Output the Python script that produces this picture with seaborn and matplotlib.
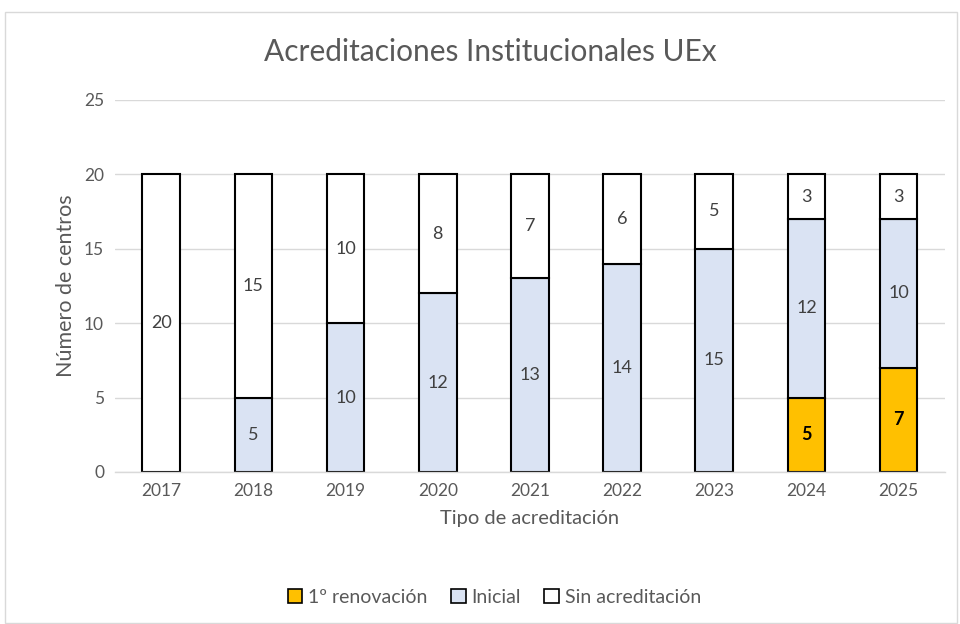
import matplotlib
matplotlib.use("Agg")
import matplotlib.pyplot as plt
import seaborn as sns
import pandas as pd
from matplotlib.patches import Rectangle, Patch

years = ["2017", "2018", "2019", "2020", "2021", "2022", "2023", "2024", "2025"]
renovacion = [0, 0, 0, 0, 0, 0, 0, 5, 7]
inicial = [0, 5, 10, 12, 13, 14, 15, 12, 10]
sin_acred = [20, 15, 10, 8, 7, 6, 5, 3, 3]

sns.set_theme(style="white")
plt.rcParams['font.family'] = ['Lato', 'DejaVu Sans']

fig = plt.figure(figsize=(9.6, 6.24), dpi=100)
ax = fig.add_axes([0.12, 0.2436, 0.864, 0.5964])

df = pd.DataFrame({"year": years, "ren": renovacion, "ini": inicial, "sin": sin_acred})
bot1 = [0] * len(years)
bot2 = [r for r in renovacion]
bot3 = [r + i for r, i in zip(renovacion, inicial)]

layers = [
    ("ren", bot1, "#FFC000", "1º renovación"),
    ("ini", bot2, "#DAE3F3", "Inicial"),
    ("sin", bot3, "#FFFFFF", "Sin acreditación"),
]
for col, bottom, color, lab in layers:
    sns.barplot(data=df, x="year", y=col, ax=ax, color=color, bottom=bottom,
                width=0.41, edgecolor="black", linewidth=1.5, saturation=1,
                order=years)

# labels
for i in range(len(years)):
    vals = [renovacion[i], inicial[i], sin_acred[i]]
    bots = [bot1[i], bot2[i], bot3[i]]
    for k, (v, b) in enumerate(zip(vals, bots)):
        if v == 0:
            continue
        if k == 0:
            ax.text(i, b + v / 2, str(v), ha="center", va="center", fontsize=13,
                    fontweight="bold", color="black")
        else:
            ax.text(i, b + v / 2, str(v), ha="center", va="center", fontsize=13,
                    color="#404040")

ax.set_ylim(0, 25)
ax.set_yticks([0, 5, 10, 15, 20, 25])
ax.set_xlim(-0.5, len(years) - 0.5)
ax.yaxis.grid(True, color="#D9D9D9", linewidth=1)
ax.set_axisbelow(True)
for s in ["top", "right", "left"]:
    ax.spines[s].set_visible(False)
ax.spines["bottom"].set_color("#D9D9D9")
ax.spines["bottom"].set_linewidth(1)
ax.tick_params(axis="both", length=0, labelsize=12.5, labelcolor="#595959", pad=8)
ax.set_xlabel("Tipo de acreditación", fontsize=14.5, color="#595959", labelpad=8)
ax.set_ylabel("Número de centros", fontsize=15.5, color="#595959", labelpad=6)
fig.text(0.511, 0.917, "Acreditaciones Institucionales UEx", ha="center", va="center",
         fontsize=21.5, color="#595959")

handles = [Patch(facecolor=c, edgecolor="black", linewidth=1.2, label=l)
           for _, _, c, l in layers]
fig.legend(handles=handles, loc="center", bbox_to_anchor=(0.515, 0.043), ncol=3,
           frameon=False, fontsize=14, handlelength=0.75, handleheight=0.75,
           handletextpad=0.3, columnspacing=1.2, labelcolor="#595959")

fig.patches.append(Rectangle((5 / 960, 0.002), 952 / 960, 1 - 12 / 624 - 0.002,
                             transform=fig.transFigure, fill=False,
                             edgecolor="#D9D9D9", linewidth=1))

fig.savefig("out.png", dpi=100)
